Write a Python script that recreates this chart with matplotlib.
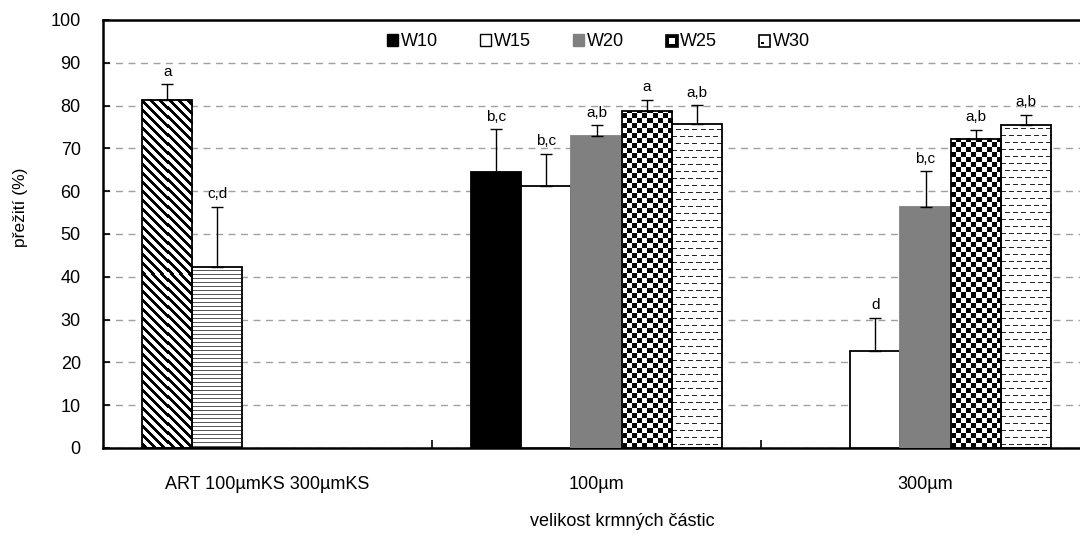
import numpy as np
import matplotlib.pyplot as plt
from matplotlib.patches import Rectangle, Patch

plt.rcParams['font.family'] = ['Liberation Sans', 'DejaVu Sans']

# data
categories = ['ART 100µmKS 300µmKS', '100µm', '300µm']
series = ['W10', 'W15', 'W20', 'W25', 'W30']
nan = np.nan
w10 = [nan, 64.5, nan]
w15 = [nan, 61.2, 22.7]
w20 = [nan, 72.9, 56.3]
w25 = [nan, 78.7, 72.2]
w30 = [nan, 75.7, 75.5]
w10_err = [nan, 10.0, nan]
w15_err = [nan, 7.5, 7.7]
w20_err = [nan, 2.5, 8.4]
w25_err = [nan, 2.6, 2.1]
w30_err = [nan, 4.4, 2.3]
w10_let = ['', 'b,c', '']
w15_let = ['', 'b,c', 'd']
w20_let = ['', 'a,b', 'b,c']
w25_let = ['', 'a', 'a,b']
w30_let = ['', 'a,b', 'a,b']

control_names = ['ART', '100µmKS']
control_vals = [81.4, 42.2]
control_err = [3.6, 14.2]
control_let = ['a', 'c,d']

values = [w10, w15, w20, w25, w30]
errors = [w10_err, w15_err, w20_err, w25_err, w30_err]
letters = [w10_let, w15_let, w20_let, w25_let, w30_let]

DPI = 100
fig = plt.figure(figsize=(10.8, 5.33), dpi=DPI)
L, B, R, T = 103 / 1080, 1 - 448 / 533, 1090 / 1080, 1 - 20 / 533
ax = fig.add_axes([L, B, R - L, T - B])
ax.set_xlim(-0.5, 2.5)
ax.set_ylim(0, 100)
px_x = (R - L) * 1080 / 3.0   # pixels per x unit
px_y = (T - B) * 533 / 100.0  # pixels per y unit

width = 0.152
x = np.arange(len(categories))


def texture(x0, h, kind):
    # fill pattern drawn pixel by pixel inside the bar
    wpx = int(round(width * px_x))
    hpx = int(round(h * px_y))
    rr, cc = np.mgrid[0:hpx, 0:wpx]
    bottom_row = hpx - 1 - rr
    if kind == 'checker':
        img = (((bottom_row // 5) + (cc // 5)) % 2).astype(float)
    elif kind == 'dash':
        band = (bottom_row % 7) == 3
        off = np.where((bottom_row // 7) % 2 == 0, 0, 4)
        dash = ((cc + off) % 8) < 5
        img = np.where(band & dash, 0.15, 1.0)
    elif kind == 'diag':
        img = np.where(((rr - cc) % 9) < 4, 0.0, 1.0)
    else:  # horizontal lines
        img = np.where((bottom_row % 4) == 1, 0.35, 1.0)
    ax.imshow(img, extent=(x0, x0 + width, 0, h), cmap='gray', vmin=0, vmax=1,
              interpolation='nearest', aspect='auto', zorder=2)
    ax.bar(x0, h, width, align='edge', fill=False, edgecolor='black', linewidth=1.3, zorder=3)


def err_and_letter(xc, v, e, txt):
    ax.errorbar(xc, v, yerr=[[0], [e]], fmt='none', ecolor='black', elinewidth=1.0,
                capsize=4, capthick=1.0, zorder=4)
    ax.annotate(txt, (xc, v + e), xytext=(0, 4), textcoords='offset points',
                ha='center', va='bottom', fontsize=11)


# control bars in the first category
texture(x[0] - 2.5 * width, control_vals[0], 'diag')
texture(x[0] - 1.5 * width, control_vals[1], 'hline')
for i in range(2):
    err_and_letter(x[0] + (i - 2) * width, control_vals[i], control_err[i], control_let[i])

styles = [dict(facecolor='black', edgecolor='black'),
          dict(facecolor='white', edgecolor='black'),
          dict(facecolor='#808080', edgecolor='#808080'),
          None, None]
for s in range(len(series)):
    for c in range(len(categories)):
        v = values[s][c]
        if np.isnan(v):
            continue
        x0 = x[c] + (s - 2.5) * width
        if s == 3:
            texture(x0, v, 'checker')
        elif s == 4:
            texture(x0, v, 'dash')
        else:
            ax.bar(x0, v, width, align='edge', linewidth=1.3, zorder=3, **styles[s])
        err_and_letter(x0 + width / 2, v, errors[s][c], letters[s][c])


class InsetHandler:
    def __init__(self, outer_fc, inner_fc, inner):
        self.outer_fc, self.inner_fc, self.inner = outer_fc, inner_fc, inner

    def legend_artist(self, legend, orig_handle, fontsize, handlebox):
        x0, y0 = handlebox.xdescent, handlebox.ydescent
        w, h = handlebox.width, handlebox.height
        tr = handlebox.get_transform()
        outer = Rectangle((x0, y0), w, h, facecolor=self.outer_fc, edgecolor='black',
                          linewidth=1.2, transform=tr)
        handlebox.add_artist(outer)
        fx, fy, fw, fh = self.inner
        handlebox.add_artist(Rectangle((x0 + fx * w, y0 + fy * h), fw * w, fh * h,
                                       facecolor=self.inner_fc, edgecolor='none', transform=tr))
        return outer


handles = [Patch(facecolor='black', edgecolor='black'),
           Patch(facecolor='white', edgecolor='black'),
           Patch(facecolor='#808080', edgecolor='#808080'),
           Patch(label='W25'), Patch(label='W30')]
hmap = {handles[3]: InsetHandler('black', 'white', (0.3, 0.25, 0.45, 0.45)),
        handles[4]: InsetHandler('white', 'black', (0.15, 0.2, 0.3, 0.15))}
ax.legend(handles, series, handler_map=hmap, loc='center', bbox_to_anchor=(0.502, 0.949),
          ncol=5, frameon=False, fontsize=13, handlelength=0.65, handleheight=0.65,
          handletextpad=0.15, columnspacing=2.3)

ax.set_yticks(np.arange(0, 101, 10))
ax.yaxis.grid(True, linestyle=(0, (5, 4)), color='#a0a0a0', linewidth=1.0)
ax.set_axisbelow(True)
ax.tick_params(axis='y', direction='in', length=5, width=1.2, labelsize=13, pad=16)
ax.set_xticks(x)
ax.set_xticklabels(categories)
ax.tick_params(axis='x', which='major', length=0, labelsize=13, pad=20)
ax.set_xticks([0.5, 1.5], minor=True)
ax.tick_params(axis='x', which='minor', direction='in', length=6, width=1.2)
for sp in ax.spines.values():
    sp.set_linewidth(1.8)

ax.set_ylabel('přežití (%)', fontsize=12.5)
ax.yaxis.set_label_coords(-0.076, 0.563)
ax.set_xlabel('velikost krmných částic', fontsize=13)
ax.xaxis.set_label_coords(0.526, -0.152)

fig.savefig('out.png', dpi=DPI)
